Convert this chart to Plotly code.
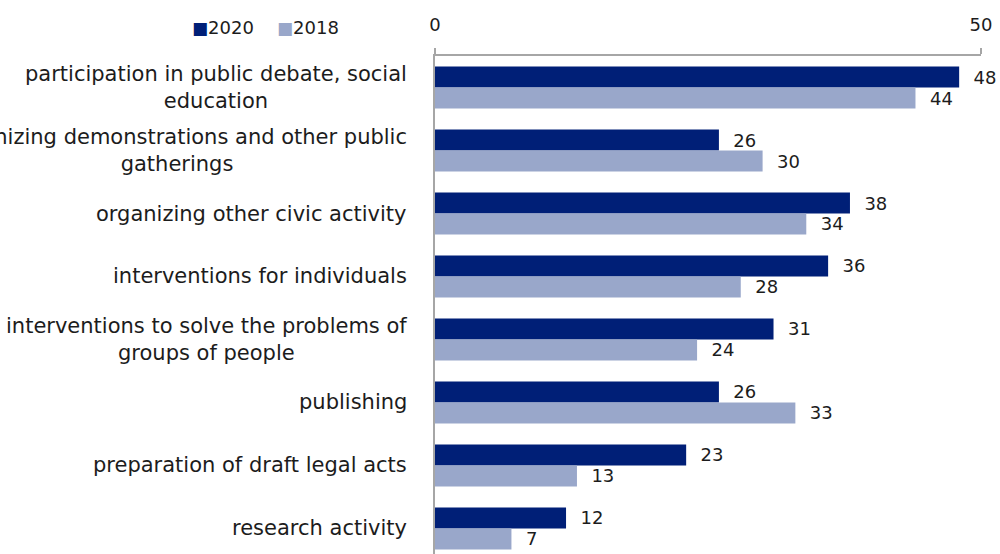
import plotly.graph_objects as go

# Forms of activity (top to bottom) and share of organisations, %
categories = [
    "participation in public debate, social<br>education",
    "organizing demonstrations and other public<br>gatherings",
    "organizing other civic activity",
    "interventions for individuals",
    "interventions to solve the problems of<br>groups of people",
    "publishing",
    "preparation of draft legal acts",
    "research activity",
]
series_names = ["2020", "2018"]
values_2020 = [48, 26, 38, 36, 31, 26, 23, 12]
values_2018 = [44, 30, 34, 28, 24, 33, 13, 7]
x_ticks = [0, 50]

colors = {"2020": "#001f77", "2018": "#99a7ca"}
text_color = "#1c1c1c"
font_family = "DejaVu Sans, sans-serif"
font_size = 18
label_size = 21

fig = go.Figure()
for name, vals in zip(series_names, [values_2020, values_2018]):
    fig.add_trace(go.Bar(
        name=name,
        y=categories,
        x=vals,
        orientation="h",
        marker=dict(color=colors[name], line=dict(width=0)),
        text=vals,
        texttemplate="\u00a0\u00a0%{text}",
        textposition="outside",
        constraintext="none",
        cliponaxis=False,
        textfont=dict(family=font_family, size=font_size, color=text_color),
        showlegend=False,
    ))

# Category labels: right-aligned block, centred lines
annotations = []
for cat in categories:
    annotations.append(dict(
        x=0, xref="paper", xanchor="right", xshift=-26,
        y=cat, yref="y", yanchor="middle",
        text=cat, align="center", showarrow=False,
        font=dict(family=font_family, size=label_size, color=text_color),
    ))

# Legend entries drawn as coloured square + label
legend_x = [-0.4487, -0.293]
for name, lx in zip(series_names, legend_x):
    annotations.append(dict(
        x=lx, xref="paper", xanchor="left",
        y=1.058, yref="paper", yanchor="middle",
        text=f"<span style='color:{colors[name]};font-size:17px'>■</span>{name}",
        showarrow=False,
        font=dict(family=font_family, size=font_size, color=text_color),
    ))

fig.update_layout(
    width=1000, height=554,
    margin=dict(l=435, r=19, t=56, b=0, pad=0),
    paper_bgcolor="white", plot_bgcolor="white",
    barmode="group", bargap=1/3, bargroupgap=0,
    annotations=annotations,
    xaxis=dict(
        side="top", range=[0, 50], tickvals=x_ticks,
        showgrid=False, zeroline=False,
        showline=True, linecolor="#a6a6a6", linewidth=1.5,
        ticks="outside", ticklen=6, tickcolor="#a6a6a6", tickwidth=1.5,
        ticklabelstandoff=10,
        tickfont=dict(family=font_family, size=font_size, color=text_color),
    ),
    yaxis=dict(
        type="category", range=[7.405, -0.5],
        showticklabels=False, showgrid=False, zeroline=False,
        showline=True, linecolor="#a6a6a6", linewidth=1.5, ticks="",
    ),
)

fig.write_html("out.html")
